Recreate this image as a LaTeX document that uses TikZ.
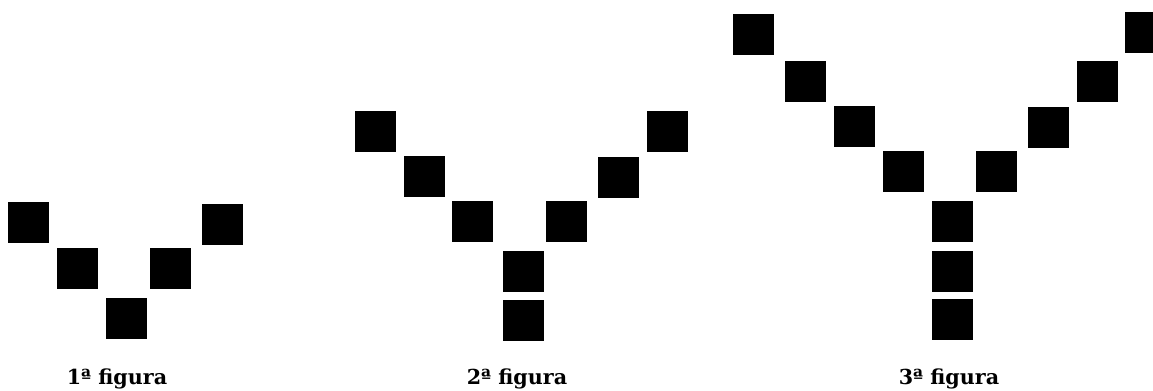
\documentclass[tikz,border=0pt]{standalone}
\usepackage{fontspec}
\setmainfont{DejaVu Serif}
\begin{document}
\begin{tikzpicture}[x=0.75pt, y=-0.75pt,
  sq/.style={fill=black, draw=none, inner sep=0pt, minimum size=30.75pt},
  lab/.style={anchor=base, font=\fontsize{15.5}{18}\selectfont\bfseries}]
\useasboundingbox (0,0) rectangle (1153,391);
\clip (0,0) rectangle (1153,391);
% 1a figura
\node[sq] (a1) at (28,223) {};
\node[sq] (a2) at (77.5,269) {};
\node[sq] (a3) at (126.5,318.5) {};
\node[sq] (a4) at (170,269) {};
\node[sq] (a5) at (222.5,225) {};
\node[lab] (lab1) at (117,385) {1ª figura};
% 2a figura
\node[sq] (b1) at (375,132) {};
\node[sq] (b2) at (424,177) {};
\node[sq] (b3) at (472.5,222) {};
\node[sq] (b4) at (523,272) {};
\node[sq] (b5) at (523,320.5) {};
\node[sq] (b6) at (566,222) {};
\node[sq] (b7) at (618.5,178) {};
\node[sq] (b8) at (667,132) {};
\node[lab] (lab2) at (517,385) {2ª figura};
% 3a figura
\node[sq] (c1) at (753,35) {};
\node[sq] (c2) at (805,82) {};
\node[sq] (c3) at (854,127) {};
\node[sq] (c4) at (903,172) {};
\node[sq] (c5) at (952.5,222) {};
\node[sq] (c6) at (952.5,272) {};
\node[sq] (c7) at (952.5,320) {};
\node[sq] (c8) at (996,172) {};
\node[sq] (c9) at (1048,128) {};
\node[sq] (c10) at (1097,82) {};
\node[sq] (c11) at (1145,32.5) {};
\node[lab] (lab3) at (949,385) {3ª figura};
\end{tikzpicture}
\end{document}
